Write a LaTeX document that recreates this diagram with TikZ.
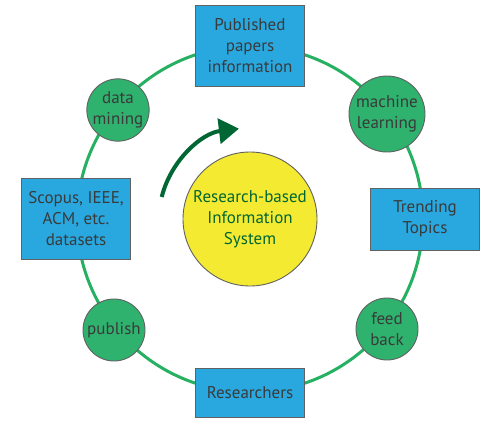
\documentclass[tikz,border=0pt]{standalone}
\usepackage{fontspec}
\setmainfont{PT Sans}
\usepackage{xcolor}
\usepackage{tikz}
\usetikzlibrary{arrows.meta,positioning,calc}
\definecolor{boite}{RGB}{41,168,224}
\definecolor{anneau}{RGB}{38,176,98}
\definecolor{rond}{RGB}{46,178,110}
\definecolor{soleil}{RGB}{245,234,50}
\definecolor{fleche}{RGB}{0,102,51}
\definecolor{encre}{RGB}{58,58,58}

\begin{document}
\begin{tikzpicture}[x=1pt,y=1pt,
    font=\fontsize{17}{21}\selectfont,
    boitebleue/.style={draw=encre!80,line width=0.9pt,fill=boite,text=encre,
                       minimum width=109pt,inner sep=0pt,align=center},
    rondvert/.style={circle,draw=encre!80,line width=0.9pt,fill=rond,text=encre,
                     inner sep=0pt,align=center}]
      \useasboundingbox (0,0) rectangle (500,432);
      % anneau
      \coordinate (centre) at (250,213);
      \draw[anneau,line width=3pt] (centre) circle[radius=173];
      % boites
      \node[boitebleue,minimum height=81pt] (papiers) at (250,386) {Published\\papers\\information};
      \node[boitebleue,minimum height=81pt] (sources) at (76,213) {Scopus, IEEE,\\ACM, etc.\\datasets};
      \node[boitebleue,minimum height=62pt] (tendances) at (425,213) {Trending\\Topics};
      \node[boitebleue,minimum height=49pt] (chercheurs) at (250,39) {Researchers};
      % ronds
      \node[rondvert,minimum size=62pt] (fouille) at (118,322) {data\\mining};
      \node[rondvert,minimum size=76pt] (appr) at (387,318) {machine\\learning};
      \node[rondvert,minimum size=62pt] (publier) at (114,102) {publish};
      \node[rondvert,minimum size=62pt] (retour) at (387,103) {feed\\back};
      % systeme
      \node[circle,draw=encre!80,line width=0.9pt,fill=soleil,text=fleche,
            minimum size=134pt,inner sep=0pt,align=center] (systeme) at (centre)
            {Research-based\\Information\\System};
      \draw[fleche,line width=4pt,-{Triangle[length=20pt,width=25pt]}]
        ($(centre)+(166:91)$) arc[start angle=166,end angle=97,radius=91];
\end{tikzpicture}
\end{document}
